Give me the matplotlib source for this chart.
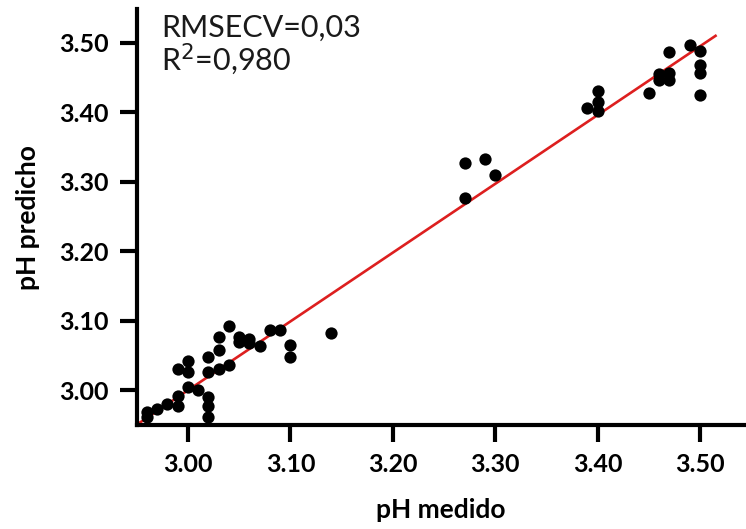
import matplotlib.pyplot as plt
import numpy as np

ph_medido = [2.96, 2.96, 2.97, 2.98, 2.99, 2.99, 2.99, 3.00, 3.00, 3.00,
             3.01, 3.02, 3.02, 3.02, 3.02, 3.02, 3.03, 3.03, 3.03, 3.04,
             3.04, 3.05, 3.05, 3.06, 3.06, 3.07, 3.08, 3.09, 3.10, 3.10,
             3.14, 3.27, 3.27, 3.29, 3.30, 3.39, 3.40, 3.40, 3.40, 3.45,
             3.46, 3.46, 3.47, 3.47, 3.47, 3.49, 3.50, 3.50, 3.50, 3.50]
ph_predicho = [2.969, 2.962, 2.973, 2.980, 2.991, 2.977, 3.031, 3.042, 3.026, 3.004,
               3.000, 2.990, 2.978, 2.962, 3.048, 3.026, 3.077, 3.058, 3.031, 3.092,
               3.037, 3.077, 3.070, 3.073, 3.068, 3.063, 3.086, 3.086, 3.065, 3.048,
               3.083, 3.327, 3.277, 3.332, 3.310, 3.406, 3.430, 3.414, 3.402, 3.427,
               3.455, 3.446, 3.487, 3.457, 3.446, 3.496, 3.488, 3.468, 3.457, 3.425]

# fitted line (slope / intercept at pH 3.00) and its x range
slope = 0.99
y_at_3 = 3.0
fit_x = [2.95, 3.515]

ticks = [3.00, 3.10, 3.20, 3.30, 3.40, 3.50]
tick_labels = ['3.00', '3.10', '3.20', '3.30', '3.40', '3.50']

plt.rcParams['font.family'] = ['Lato', 'DejaVu Sans']

fig = plt.figure(figsize=(7.46, 5.29), dpi=100)
ax = fig.add_axes([0.1833, 0.1966, 0.8157, 0.7858])

fx = np.array(fit_x)
ax.plot(fx, y_at_3 + slope * (fx - 3.0), color='#dd1f1f', lw=1.9, zorder=2)
ax.scatter(ph_medido, ph_predicho, s=78, color='black', zorder=3, linewidths=0)

ax.set_xlim(2.95, 3.544)
ax.set_ylim(2.95, 3.548)
ax.set_xticks(ticks)
ax.set_xticklabels(tick_labels)
ax.set_yticks(ticks)
ax.set_yticklabels(tick_labels)

for s in ['top', 'right']:
    ax.spines[s].set_visible(False)
for s in ['left', 'bottom']:
    ax.spines[s].set_linewidth(3)
ax.tick_params(length=12, width=3, labelsize=18, pad=8)
for lab in ax.get_xticklabels() + ax.get_yticklabels():
    lab.set_fontweight('bold')

ax.set_xlabel('pH medido', fontsize=19, fontweight='bold', labelpad=16)
ax.set_ylabel('pH predicho', fontsize=19, fontweight='bold', labelpad=14)

ax.text(0.04, 0.99, 'RMSECV=0,03\nR$^2$=0,980', transform=ax.transAxes,
        fontsize=22, va='top', ha='left', linespacing=1.0, color='#1a1a1a')

fig.savefig('out.png', dpi=100)
